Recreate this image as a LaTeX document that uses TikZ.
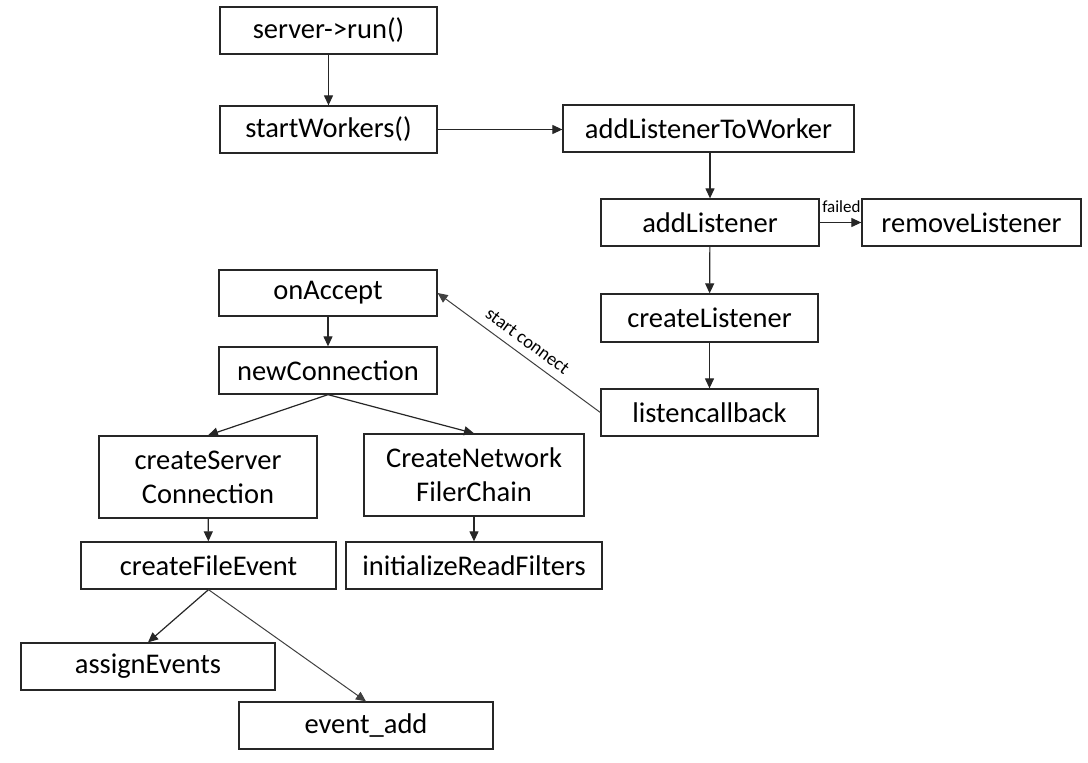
\documentclass[tikz,border=0pt]{standalone}
\usepackage{fontspec}
\setmainfont{Carlito}
\usetikzlibrary{arrows.meta}
\tikzset{
  box/.style={draw=black!85, line width=1.3pt, fill=white, inner sep=0pt, align=center,
    font=\fontsize{28.5}{34}\selectfont, text=black},
  arr/.style={draw=black!85, line width=1.2pt, -{Triangle[length=10pt,width=9pt]}},
  thinarr/.style={draw=black!75, line width=1pt, -{Triangle[length=10pt,width=9pt]}},
  lbl/.style={font=\fontsize{17}{20}\selectfont, text=black},
}
\begin{document}
\begin{tikzpicture}[x=1pt,y=-1pt]
\useasboundingbox[fill=white] (0,0) rectangle (1088,763);
\node[box, minimum width=217pt, minimum height=47pt] (srv) at (328.5,30.5) {server->run()};
\node[box, minimum width=217pt, minimum height=47pt] (sw) at (328.5,129.5) {startWorkers()};
\node[box, minimum width=291pt, minimum height=47pt] (altw) at (708.5,128.5) {addListenerToWorker};
\node[box, minimum width=218pt, minimum height=47pt] (al) at (710,222.5) {addListener};
\node[box, minimum width=219pt, minimum height=47pt] (rl) at (971.5,222.5) {removeListener};
\node[box, minimum width=218pt, minimum height=46pt] (oa) at (328,293) {onAccept};
\node[box, minimum width=217pt, minimum height=48pt] (cl) at (709.5,318) {createListener};
\node[box, minimum width=218pt, minimum height=47pt] (nc) at (328,370.5) {newConnection};
\node[box, minimum width=217pt, minimum height=47pt] (lc) at (709.5,412.5) {listencallback};
\node[box, minimum width=218pt, minimum height=82pt] (cs) at (208,477) {createServer\\Connection};
\node[box, minimum width=220pt, minimum height=82pt] (cn) at (474,475) {CreateNetwork\\FilerChain};
\node[box, minimum width=255pt, minimum height=47pt] (cfe) at (208.5,565.5) {createFileEvent};
\node[box, minimum width=256pt, minimum height=47pt] (irf) at (474,565.5) {initializeReadFilters};
\node[box, minimum width=254pt, minimum height=47pt] (ae) at (148,666.5) {assignEvents};
\node[box, minimum width=254pt, minimum height=47pt] (ea) at (366,725.5) {event\_add};

\draw[arr] (srv) -- (sw);
\draw[arr] (sw) -- (altw.west |- sw.east);
\draw[arr] (altw.south -| al.north) -- (al.north);
\draw[arr] (al) -- node[pos=0, anchor=south west, lbl, inner sep=0pt, xshift=2pt, yshift=9pt] {failed} (rl);
\draw[arr] (al) -- (cl);
\draw[arr] (cl) -- (lc);
\draw[thinarr] (lc.west) -- node[sloped, above, lbl, inner sep=8pt, font=\fontsize{18.5}{22}\selectfont] {start connect} (oa.east);
\draw[arr] (oa) -- (nc);
\draw[arr] (nc.south) -- (cs.north);
\draw[arr] (nc.south) -- (cn.north);
\draw[arr] (cs) -- (cfe);
\draw[arr] (cn) -- (irf);
\draw[arr] (cfe.south) -- (ae.north);
\draw[thinarr] (cfe.south) -- (ea.north);
\end{tikzpicture}
\end{document}
